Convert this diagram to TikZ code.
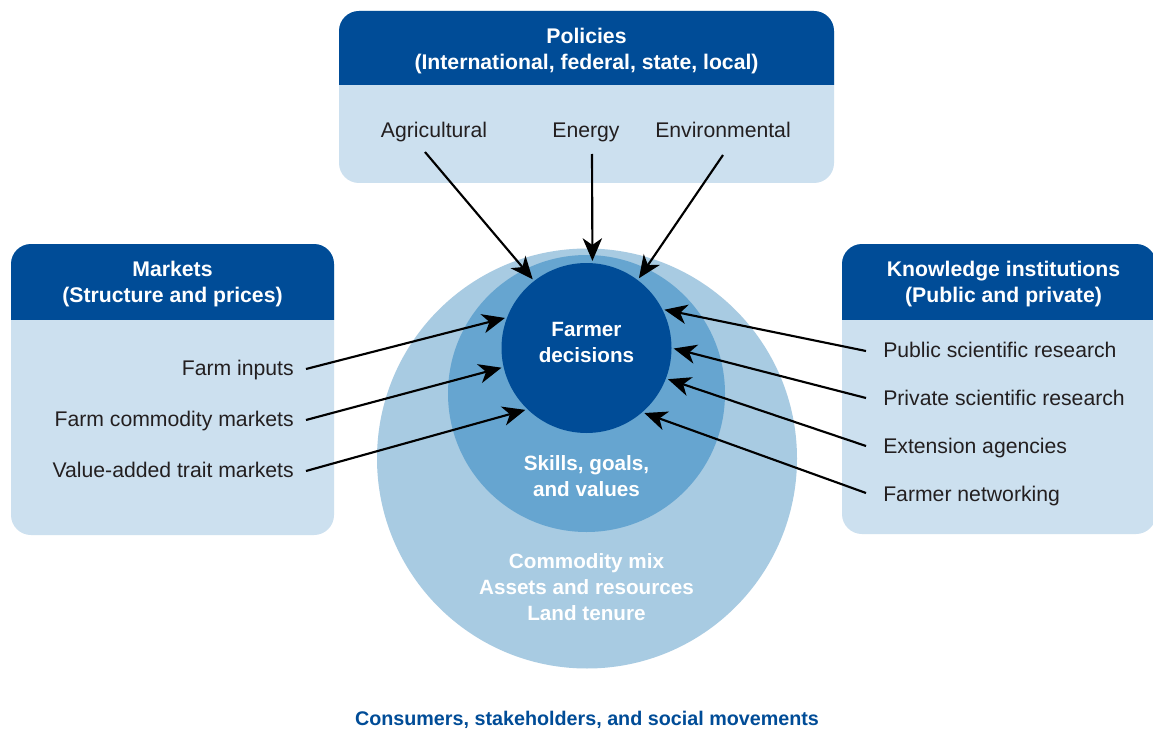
\documentclass[tikz,border=0pt]{standalone}
\usepackage{fontspec}
\setmainfont{Liberation Sans}
\usetikzlibrary{arrows.meta}
\definecolor{dkblue}{RGB}{0,76,151}
\definecolor{boxlight}{RGB}{204,224,239}
\definecolor{outerc}{RGB}{168,203,226}
\definecolor{midc}{RGB}{102,165,208}
\definecolor{txtgray}{RGB}{35,31,32}
\begin{document}
\begin{tikzpicture}[x=0.75pt,y=-0.75pt,
  hdr/.style={text=white,font=\bfseries\fontsize{15.9}{19.5}\selectfont,align=center,inner sep=0pt},
  lbl/.style={text=txtgray,font=\fontsize{15.9}{19.5}\selectfont,inner sep=0pt},
  ctext/.style={text=white,font=\bfseries\fontsize{15.5}{19.5}\selectfont,align=center,inner sep=0pt},
  disc/.style={circle,inner sep=0pt},
  arr/.style={line width=1.6pt,shorten >=1.5pt,-{Stealth[length=17pt,width=14.5pt,inset=5pt]}},
  boxfill/.style={fill=boxlight,rounded corners=15pt},
  hdrfill/.style={fill=dkblue,rounded corners=15pt}
]
\clip (0,0) rectangle (1153,731);
\fill[white] (0,0) rectangle (1153,731);

% ---- Policies box
\fill[boxfill] (339,11) rectangle (834,183);
\begin{scope}
  \clip (339,11) rectangle (834,85);
  \fill[hdrfill] (339,11) rectangle (834,183);
\end{scope}
\node[hdr] (polh) at (586.5,51) {Policies\\(International, federal, state, local)};

% ---- Markets box
\fill[boxfill] (11,244) rectangle (334,535);
\begin{scope}
  \clip (11,244) rectangle (334,319);
  \fill[hdrfill] (11,244) rectangle (334,535);
\end{scope}
\node[hdr] (markh) at (172.5,284) {Markets\\(Structure and prices)};

% ---- Knowledge box
\fill[boxfill] (842,244) rectangle (1156,534);
\begin{scope}
  \clip (842,244) rectangle (1156,319);
  \fill[hdrfill] (842,244) rectangle (1156,534);
\end{scope}
\node[hdr] (knowh) at (1003.5,284) {Knowledge institutions\\(Public and private)};

% ---- circles
\node[disc,fill=outerc,minimum size=315pt] (outer) at (587,458.5) {};
\node[disc,fill=midc,minimum size=207.75pt] (mid) at (586.5,393.5) {};
\node[disc,fill=dkblue,minimum size=127.5pt] (dec) at (586.5,348) {};

\node[ctext] (dect) at (586.5,342) {Farmer\\decisions};
\node[ctext] (skill) at (586.5,476) {Skills, goals,\\and values};
\node[ctext] (comm) at (586.5,587) {Commodity mix\\Assets and resources\\Land tenure};

% ---- labels
\node[lbl,anchor=base] (agri) at (434,138) {Agricultural};
\node[lbl,anchor=base] (energy) at (586,138) {Energy};
\node[lbl,anchor=base] (envir) at (723,138) {Environmental};

\node[lbl,anchor=base east] (finp) at (294,375) {Farm inputs};
\node[lbl,anchor=base east] (fcom) at (294,426) {Farm commodity markets};
\node[lbl,anchor=base east] (vadd) at (294,477) {Value-added trait markets};

\node[lbl,anchor=base west] (pub) at (883,357) {Public scientific research};
\node[lbl,anchor=base west] (priv) at (883,405) {Private scientific research};
\node[lbl,anchor=base west] (ext) at (883,453) {Extension agencies};
\node[lbl,anchor=base west] (netw) at (883,501) {Farmer networking};

\node[text=dkblue,font=\bfseries\fontsize{14.8}{18}\selectfont,inner sep=0pt] (cons) at (587,720) {Consumers, stakeholders, and social movements};

% ---- connector start points
\coordinate (agriS) at (425,152);
\coordinate (energyS) at (592,154);
\coordinate (envirS) at (723,155);
\coordinate (finpS) at (306,369);
\coordinate (fcomS) at (306,420);
\coordinate (vaddS) at (306,471);
\coordinate (pubS) at (866,351);
\coordinate (privS) at (866,398);
\coordinate (extS) at (866,446);
\coordinate (netwS) at (866,493);

% ---- arrows
\draw[arr] (agriS) -- (dec.128);
\draw[arr] (energyS) -- (dec.86);
\draw[arr] (envirS) -- (dec.53);
\draw[arr] (finpS) -- (dec.159);
\draw[arr] (fcomS) -- (dec.193);
\draw[arr] (vaddS) -- (dec.226);
\draw[arr] (pubS) -- (dec.27);
\draw[arr] (privS) -- (dec.0);
\draw[arr] (extS) -- (dec.-21);
\draw[arr] (netwS) -- (dec.-49);
\end{tikzpicture}
\end{document}
